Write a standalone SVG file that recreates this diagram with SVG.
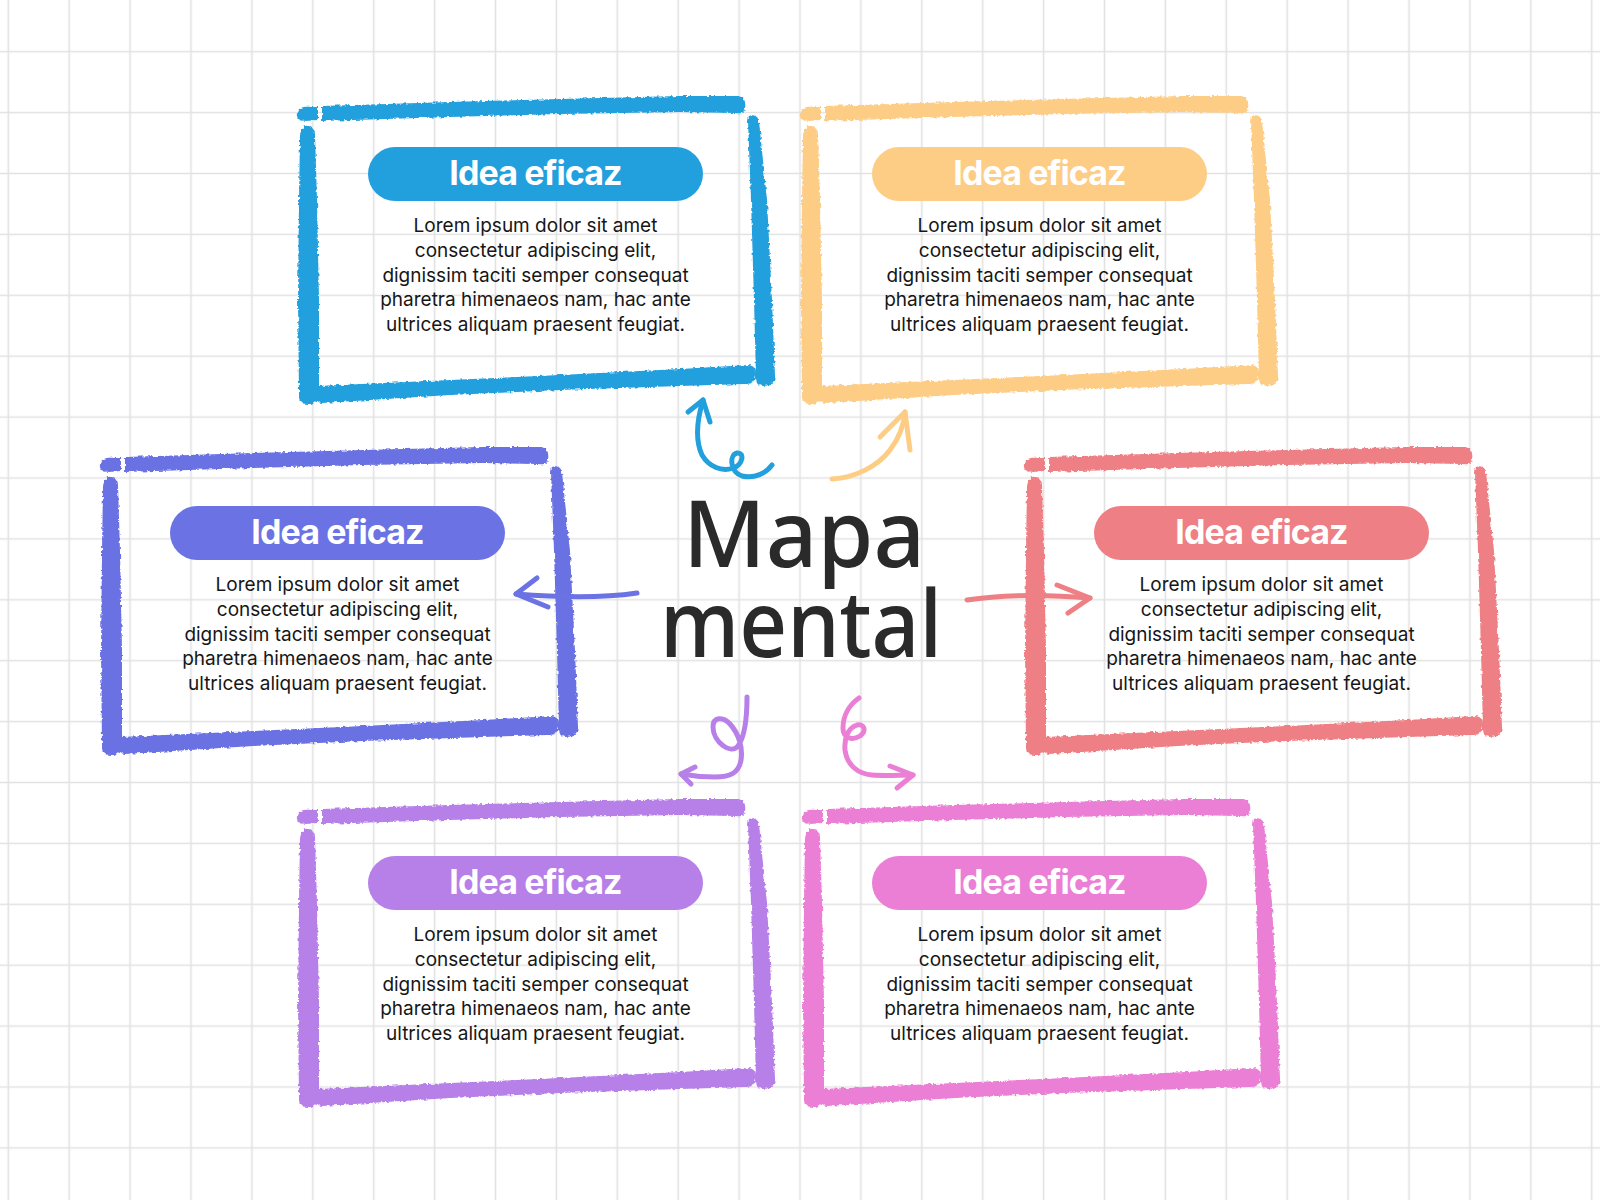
<svg xmlns="http://www.w3.org/2000/svg" xmlns:xlink="http://www.w3.org/1999/xlink" width="1600" height="1200" viewBox="0 0 1600 1200">
<style>
.title{font-family:Inter,"Liberation Sans",Arial,sans-serif;font-weight:700;font-size:34px;fill:#ffffff;text-anchor:middle;letter-spacing:-0.9px}
.body{font-family:Inter,"Liberation Sans",Arial,sans-serif;font-weight:400;font-size:19px;fill:#161616;text-anchor:middle}
.center{font-family:"Noto Sans","DejaVu Sans",sans-serif;font-weight:500;font-size:92px;fill:#2a2a2a;text-anchor:middle}
.conn{fill:none;stroke-width:5;stroke-linecap:round;stroke-linejoin:round}
</style>
<defs>
<pattern id="grid" x="-22.15" y="21.25" width="60.9" height="60.9" patternUnits="userSpaceOnUse">
<path d="M30.45 0V60.9M0 30.45H60.9" stroke="#e2e2e2" stroke-width="1.6" fill="none"/>
</pattern>
<filter id="rough" x="-5%" y="-5%" width="110%" height="110%">
<feTurbulence type="fractalNoise" baseFrequency="0.3" numOctaves="2" seed="4"/>
<feDisplacementMap in="SourceGraphic" scale="4" xChannelSelector="R" yChannelSelector="G"/>
</filter>
<g id="frame" fill="currentColor">
<path d="M297,113 C298,107 305,106 312,107 L318,107 L318,120 L306,121 C299,121 296,118 297,113 Z"/>
<path d="M322,106 L450,102 L560,99 L680,96 L738,96 C745,97 746,103 745,109 C744,113 741,114 736,113 L680,112 L560,114 L450,117 L322,121 Z"/>
<path d="M303,127 C308,124 314,127 315,134 L317,200 L319,300 L319,396 C319,402 315,404 308,404 C301,404 299,401 299,396 L298,300 L299,200 L300,134 Z"/>
<path d="M749,116 C753,114 758,116 759,121 L767,200 L772,300 L775,376 C775,383 770,386 763,386 C758,386 756,383 756,378 L754,300 L751,200 L748,121 Z"/>
<path d="M318,386 L450,380 L560,375 L680,369 L748,365 C754,365 757,370 756,376 C755,382 751,384 745,384 L680,386 L560,390 L450,395 L322,403 C316,403 315,397 318,386 Z"/>
</g>
</defs>
<rect x="0" y="0" width="1600" height="1200" fill="#ffffff"/>
<rect x="0" y="0" width="1600" height="1200" fill="url(#grid)"/>

<g id="node-blue" transform="translate(0,0)">
<use xlink:href="#frame" href="#frame" style="color:#22a0de" filter="url(#rough)"/>
<rect x="368" y="147" width="335" height="54" rx="27" fill="#22a0de"/>
<text class="title" x="535.5" y="185">Idea eficaz</text>
<text class="body" x="535.5" y="232">Lorem ipsum dolor sit amet</text>
<text class="body" x="535.5" y="256.8">consectetur adipiscing elit,</text>
<text class="body" x="535.5" y="281.6">dignissim taciti semper consequat</text>
<text class="body" x="535.5" y="306.4">pharetra himenaeos nam, hac ante</text>
<text class="body" x="535.5" y="331.2">ultrices aliquam praesent feugiat.</text>
</g>

<g id="node-yellow" transform="translate(504,0)">
<use xlink:href="#frame" href="#frame" transform="translate(-1,0)" style="color:#fdcd85" filter="url(#rough)"/>
<rect x="368" y="147" width="335" height="54" rx="27" fill="#fdcd85"/>
<text class="title" x="535.5" y="185">Idea eficaz</text>
<text class="body" x="535.5" y="232">Lorem ipsum dolor sit amet</text>
<text class="body" x="535.5" y="256.8">consectetur adipiscing elit,</text>
<text class="body" x="535.5" y="281.6">dignissim taciti semper consequat</text>
<text class="body" x="535.5" y="306.4">pharetra himenaeos nam, hac ante</text>
<text class="body" x="535.5" y="331.2">ultrices aliquam praesent feugiat.</text>
</g>

<g id="node-indigo" transform="translate(-198,359)">
<use xlink:href="#frame" href="#frame" transform="translate(1,-8)" style="color:#6b72e3" filter="url(#rough)"/>
<rect x="368" y="147" width="335" height="54" rx="27" fill="#6b72e3"/>
<text class="title" x="535.5" y="185">Idea eficaz</text>
<text class="body" x="535.5" y="232">Lorem ipsum dolor sit amet</text>
<text class="body" x="535.5" y="256.8">consectetur adipiscing elit,</text>
<text class="body" x="535.5" y="281.6">dignissim taciti semper consequat</text>
<text class="body" x="535.5" y="306.4">pharetra himenaeos nam, hac ante</text>
<text class="body" x="535.5" y="331.2">ultrices aliquam praesent feugiat.</text>
</g>

<g id="node-red" transform="translate(726,359)">
<use xlink:href="#frame" href="#frame" transform="translate(1,-8)" style="color:#ee7f84" filter="url(#rough)"/>
<rect x="368" y="147" width="335" height="54" rx="27" fill="#ee7f84"/>
<text class="title" x="535.5" y="185">Idea eficaz</text>
<text class="body" x="535.5" y="232">Lorem ipsum dolor sit amet</text>
<text class="body" x="535.5" y="256.8">consectetur adipiscing elit,</text>
<text class="body" x="535.5" y="281.6">dignissim taciti semper consequat</text>
<text class="body" x="535.5" y="306.4">pharetra himenaeos nam, hac ante</text>
<text class="body" x="535.5" y="331.2">ultrices aliquam praesent feugiat.</text>
</g>

<g id="node-lavender" transform="translate(0,709)">
<use xlink:href="#frame" href="#frame" transform="translate(0,-6)" style="color:#b77fe8" filter="url(#rough)"/>
<rect x="368" y="147" width="335" height="54" rx="27" fill="#b77fe8"/>
<text class="title" x="535.5" y="185">Idea eficaz</text>
<text class="body" x="535.5" y="232">Lorem ipsum dolor sit amet</text>
<text class="body" x="535.5" y="256.8">consectetur adipiscing elit,</text>
<text class="body" x="535.5" y="281.6">dignissim taciti semper consequat</text>
<text class="body" x="535.5" y="306.4">pharetra himenaeos nam, hac ante</text>
<text class="body" x="535.5" y="331.2">ultrices aliquam praesent feugiat.</text>
</g>

<g id="node-pink" transform="translate(504,709)">
<use xlink:href="#frame" href="#frame" transform="translate(1,-6)" style="color:#eb7fd6" filter="url(#rough)"/>
<rect x="368" y="147" width="335" height="54" rx="27" fill="#eb7fd6"/>
<text class="title" x="535.5" y="185">Idea eficaz</text>
<text class="body" x="535.5" y="232">Lorem ipsum dolor sit amet</text>
<text class="body" x="535.5" y="256.8">consectetur adipiscing elit,</text>
<text class="body" x="535.5" y="281.6">dignissim taciti semper consequat</text>
<text class="body" x="535.5" y="306.4">pharetra himenaeos nam, hac ante</text>
<text class="body" x="535.5" y="331.2">ultrices aliquam praesent feugiat.</text>
</g>

<g id="node-center">
<text class="center"><tspan x="804" y="567" textLength="242" lengthAdjust="spacingAndGlyphs">Mapa</tspan><tspan x="801" y="657" textLength="282" lengthAdjust="spacingAndGlyphs">mental</tspan></text>
</g>

<g id="connectors">
<g class="conn" stroke="#22a0de">
<path d="M772,465 C766,473 755,479 742,476 C730,472 729,455 737,453 C745,452 743,465 733,468 C722,472 709,467 702,455 C695,440 697,420 703,400"/>
<path d="M688,412 L703,400 L710,422"/>
</g>
<g class="conn" stroke="#fdcd85">
<path d="M832,479 C855,478 878,466 890,450 C900,437 904,423 905,412"/>
<path d="M880,437 L905,412 L910,450"/>
</g>
<g class="conn" stroke="#6b72e3">
<path d="M637,593 Q590,600 516,594"/>
<path d="M537,578 L516,594 L548,607"/>
</g>
<g class="conn" stroke="#ee7f84">
<path d="M967,600 Q1020,592 1090,598"/>
<path d="M1057,585 L1090,598 L1068,613"/>
</g>
<g class="conn" stroke="#b77fe8">
<path d="M747,697 C747,715 746,735 738,746 C731,755 713,742 713,727 C713,717 723,716 730,724 C739,734 743,748 741,760 C739,773 730,777 715,777 C705,777 692,776 681,774"/>
<path d="M695,767 L681,774 L691,784"/>
</g>
<g class="conn" stroke="#eb7fd6">
<path d="M859,698 C849,705 843,716 843,728 C843,738 852,741 860,736 C867,731 864,723 857,725 C848,728 844,738 845,750 C847,765 858,774 872,775 C885,776 900,775 913,775"/>
<path d="M890,766 L913,775 L897,788"/>
</g>
</g>
</svg>
